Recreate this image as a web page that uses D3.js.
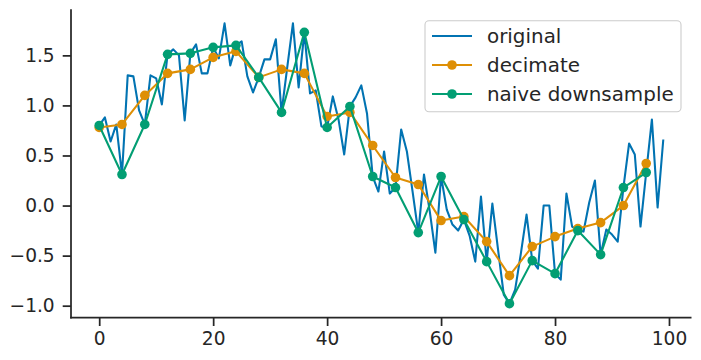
<!DOCTYPE html>
<html>
<head>
<meta charset="utf-8">
<script src="https://cdn.jsdelivr.net/npm/d3@7"></script>
<style>
  html, body { margin: 0; padding: 0; background: #fff; }
  svg { display: block; font-family: "DejaVu Sans", sans-serif; }
</style>
</head>
<body>
<svg id="chart" width="701" height="360"></svg>
<script>
// ---- data ----
const originalX = d3.range(0, 100);
const originalY = [
  0.80, 0.88, 0.64, 0.81, 0.31, 1.30, 1.29, 0.95, 0.81, 1.30,
  1.27, 1.01, 1.51, 1.56, 1.50, 0.85, 1.52, 1.61, 1.32, 1.32,
  1.58, 1.47, 1.82, 1.40, 1.60, 1.64, 1.29, 1.13, 1.28, 1.46,
  1.46, 1.66, 0.93, 1.38, 1.82, 1.18, 1.73, 1.12, 1.15, 0.79,
  0.78, 1.09, 0.86, 0.51, 0.99, 1.08, 1.20, 0.92, 0.29, 0.14,
  0.54, 0.12, 0.18, 0.76, 0.54, 0.14, -0.27, 0.31, -0.05, -0.47,
  0.29, -0.04, -0.19, -0.25, -0.14, -0.30, -0.56, 0.09, -0.56, 0.02,
  -0.44, -0.89, -0.98, -0.84, -0.48, -0.09, -0.55, -0.63, 0.00, 0.00,
  -0.68, -0.74, 0.12, -0.21, -0.25, -0.26, 0.03, 0.25, -0.49, -0.24,
  -0.29, -0.36, 0.18, 0.62, 0.51, -0.21, 0.33, 0.86, -0.02, 0.66
];
const downX = [0, 4, 8, 12, 16, 20, 24, 28, 32, 36, 40, 44, 48, 52, 56, 60, 64, 68, 72, 76, 80, 84, 88, 92, 96];
const decimateY = [0.78, 0.81, 1.10, 1.32, 1.36, 1.48, 1.54, 1.28, 1.36, 1.32, 0.89, 0.93, 0.60, 0.28, 0.21,
                   -0.15, -0.11, -0.36, -0.70, -0.41, -0.31, -0.23, -0.17, 0.00, 0.42];
const naiveY = [0.80, 0.31, 0.81, 1.51, 1.52, 1.58, 1.60, 1.28, 0.93, 1.73, 0.78, 0.99, 0.29, 0.18, -0.27,
                0.29, -0.14, -0.56, -0.98, -0.55, -0.68, -0.25, -0.49, 0.18, 0.33];
const xTicks = [0, 20, 40, 60, 80, 100];
const yTicks = [-1.0, -0.5, 0.0, 0.5, 1.0, 1.5];
const seriesNames = ["original", "decimate", "naive downsample"];
const seriesColors = ["#0173B2", "#DE8F05", "#029E73"];

// ---- layout ----
const svg = d3.select("#chart");
const plotLeft = 71, plotRight = 691.5, plotTop = 9.3, plotBottom = 317.7;
const ink = "#262626";

const xMin = 0, xMax = 99, xPad = (xMax - xMin) * 0.05;
const x = d3.scaleLinear().domain([xMin - xPad, xMax + xPad]).range([plotLeft, plotRight]);
const allY = originalY.concat(decimateY, naiveY);
const yLo = d3.min(allY), yHi = d3.max(allY), yPad = (yHi - yLo) * 0.05;
const y = d3.scaleLinear().domain([yLo - yPad, yHi + yPad]).range([plotBottom, plotTop]);

const fmt = v => d3.format(".1f")(v).replace("-", "\u2212");

// axes
const xAxis = d3.axisBottom(x).tickValues(xTicks).tickSize(8.3).tickPadding(5.5).tickFormat(d3.format("d"));
const gx = svg.append("g").attr("transform", `translate(0,${plotBottom})`).call(xAxis);
const yAxis = d3.axisLeft(y).tickValues(yTicks).tickSize(8.3).tickPadding(8).tickFormat(fmt);
const gy = svg.append("g").attr("transform", `translate(${plotLeft},0)`).call(yAxis);
[gx, gy].forEach(g => {
  g.select(".domain").remove();
  g.selectAll(".tick line").attr("stroke", ink).attr("stroke-width", 1.74);
  g.selectAll(".tick text").attr("fill", ink).style("font-size", "18.6px").style("font-family", "DejaVu Sans");
});
// spines
svg.append("line").attr("x1", plotLeft).attr("x2", plotLeft).attr("y1", plotTop).attr("y2", plotBottom + 0.87)
  .attr("stroke", ink).attr("stroke-width", 1.74);
svg.append("line").attr("x1", plotLeft - 0.87).attr("x2", plotRight).attr("y1", plotBottom).attr("y2", plotBottom)
  .attr("stroke", ink).attr("stroke-width", 1.74);

// lines
const line = d3.line().x(d => x(d[0])).y(d => y(d[1]));
const origData = originalX.map((v, i) => [v, originalY[i]]);
const decData = downX.map((v, i) => [v, decimateY[i]]);
const naiveData = downX.map((v, i) => [v, naiveY[i]]);

svg.append("path").datum(origData).attr("d", line).attr("fill", "none")
  .attr("stroke", seriesColors[0]).attr("stroke-width", 2.08).attr("stroke-linejoin", "round");

[[decData, seriesColors[1]], [naiveData, seriesColors[2]]].forEach(([data, c]) => {
  svg.append("path").datum(data).attr("d", line).attr("fill", "none")
    .attr("stroke", c).attr("stroke-width", 2.08).attr("stroke-linejoin", "round");
  svg.append("g").selectAll("circle").data(data).join("circle")
    .attr("cx", d => x(d[0])).attr("cy", d => y(d[1])).attr("r", 4.8).attr("fill", c);
});

// legend
const lg = svg.append("g");
lg.append("rect").attr("x", 425).attr("y", 20.7).attr("width", 256).attr("height", 91)
  .attr("rx", 4).attr("fill", "#fff").attr("fill-opacity", 0.8).attr("stroke", "#cccccc").attr("stroke-width", 1.1);
const rowY = [36, 65, 94];
seriesNames.forEach((name, i) => {
  lg.append("line").attr("x1", 432).attr("x2", 472).attr("y1", rowY[i]).attr("y2", rowY[i])
    .attr("stroke", seriesColors[i]).attr("stroke-width", 2.08);
  if (i > 0) lg.append("circle").attr("cx", 452).attr("cy", rowY[i]).attr("r", 4.8).attr("fill", seriesColors[i]);
  lg.append("text").attr("x", 487).attr("y", rowY[i]).attr("dy", "0.36em")
    .attr("fill", ink).style("font-size", "19.9px").text(name);
});
</script>
</body>
</html>
